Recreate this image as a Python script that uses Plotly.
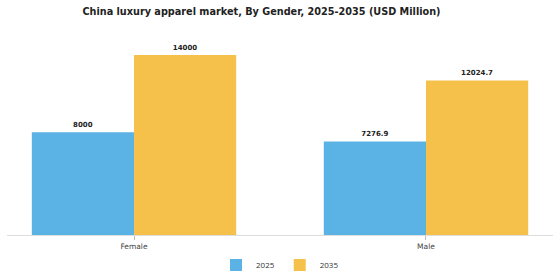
import plotly.graph_objects as go

categories = ["Female", "Male"]
years = ["2025", "2035"]
values_2025 = [8000, 7276.9]
values_2035 = [14000, 12024.7]
labels_2025 = ["8000", "7276.9"]
labels_2035 = ["14000", "12024.7"]
colors = ["#5BB2E5", "#F6C14B"]

fig = go.Figure()
for name, vals, labs, col in [(years[0], values_2025, labels_2025, colors[0]),
                              (years[1], values_2035, labels_2035, colors[1])]:
    fig.add_trace(go.Bar(
        x=categories, y=vals, name=name, marker_color=col, marker_line_width=0,
        text=labs, textposition="outside", cliponaxis=False,
        textfont=dict(family="DejaVu Sans", size=7, color="#222222", weight="bold"),
    ))

W, H = 560, 280
left, right, top, bottom = 7, 7, 40, 45
fig.update_layout(
    width=W, height=H,
    margin=dict(l=left, r=right, t=top, b=bottom, autoexpand=False),
    paper_bgcolor="white", plot_bgcolor="white",
    barmode="group", bargap=0.3, bargroupgap=0,
    title=dict(text="<b>China luxury apparel market, By Gender, 2025-2035 (USD Million)</b>",
               x=261 / W, xanchor="center", xref="paper", y=1 - 12 / H, yanchor="middle",
               yref="container",
               font=dict(family="DejaVu Sans", size=9.7, color="#222222")),
    showlegend=True,
    legend=dict(orientation="h", x=0.5, xanchor="center", y=1 - 265 / H, yanchor="middle",
                yref="container",
                font=dict(family="Open Sans", size=8, color="#333333"),
                itemwidth=30, traceorder="normal"),
    xaxis=dict(range=[-0.435, 1.435], showline=True, linecolor="#dddddd", linewidth=1,
               ticks="outside", ticklen=4, tickcolor="#bbbbbb", showgrid=False,
               tickfont=dict(family="DejaVu Sans", size=7.5, color="#444444")),
    yaxis=dict(range=[0, 195 * 77.8], visible=False, showgrid=False, zeroline=False),
)
fig.write_html("out.html")
